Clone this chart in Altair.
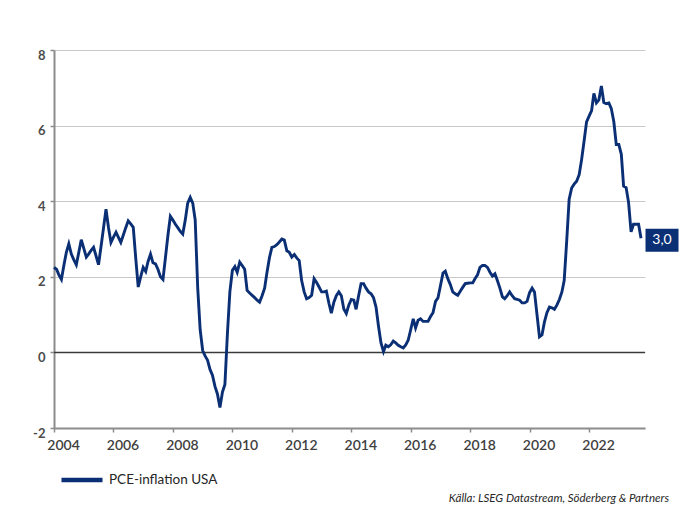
import altair as alt
import pandas as pd

# ---- data ----
series_name = "PCE-inflation USA"
source_text = "Källa: LSEG Datastream, Söderberg & Partners"
start_month = "2004-01-01"
tick_years = [2004, 2006, 2008, 2010, 2012, 2014, 2016, 2018, 2020, 2022]
y_ticks = [-2, 0, 2, 4, 6, 8]

pce_2004 = [2.25, 2.2, 2.05, 1.93, 2.3, 2.65, 2.87, 2.6, 2.45, 2.32, 2.65, 2.98]
pce_2005 = [2.75, 2.52, 2.6, 2.7, 2.78, 2.55, 2.32, 2.8, 3.3, 3.79, 3.3, 2.91]
pce_2006 = [3.05, 3.18, 3.05, 2.91, 3.1, 3.3, 3.48, 3.4, 3.31, 2.5, 1.73, 2.0]
pce_2007 = [2.25, 2.14, 2.4, 2.6, 2.37, 2.34, 2.2, 2.0, 1.93, 2.5, 3.1, 3.6]
pce_2008 = [3.5, 3.39, 3.3, 3.2, 3.13, 3.5, 3.95, 4.1, 3.95, 3.5, 1.7, 0.6]
pce_2009 = [0.05, -0.1, -0.2, -0.45, -0.6, -0.9, -1.1, -1.46, -1.05, -0.85, 0.5, 1.6]
pce_2010 = [2.17, 2.27, 2.12, 2.39, 2.3, 2.2, 1.64, 1.57, 1.51, 1.45, 1.38, 1.33]
pce_2011 = [1.5, 1.7, 2.1, 2.5, 2.78, 2.8, 2.85, 2.92, 3.0, 2.97, 2.69, 2.65]
pce_2012 = [2.52, 2.59, 2.5, 2.43, 1.9, 1.6, 1.42, 1.45, 1.51, 1.95, 1.85, 1.73]
pce_2013 = [1.6, 1.6, 1.62, 1.3, 1.04, 1.33, 1.5, 1.6, 1.5, 1.15, 1.03, 1.25]
pce_2014 = [1.4, 1.38, 1.14, 1.5, 1.82, 1.82, 1.7, 1.6, 1.55, 1.45, 1.2, 0.7]
pce_2015 = [0.25, 0.02, 0.19, 0.15, 0.2, 0.3, 0.25, 0.19, 0.15, 0.12, 0.2, 0.32]
pce_2016 = [0.6, 0.89, 0.65, 0.85, 0.89, 0.82, 0.82, 0.82, 0.95, 1.05, 1.35, 1.44]
pce_2017 = [1.77, 2.1, 2.15, 1.95, 1.8, 1.6, 1.55, 1.51, 1.62, 1.72, 1.82, 1.83]
pce_2018 = [1.84, 1.84, 1.95, 2.05, 2.25, 2.3, 2.3, 2.25, 2.12, 2.02, 2.08, 1.9]
pce_2019 = [1.7, 1.47, 1.42, 1.5, 1.6, 1.5, 1.42, 1.4, 1.38, 1.31, 1.31, 1.35]
pce_2020 = [1.58, 1.7, 1.6, 1.0, 0.41, 0.46, 0.8, 1.05, 1.2, 1.18, 1.14, 1.25]
pce_2021 = [1.4, 1.6, 1.9, 2.95, 4.05, 4.35, 4.45, 4.53, 4.7, 5.1, 5.6, 6.1]
pce_2022 = [6.25, 6.4, 6.85, 6.6, 6.68, 7.05, 6.61, 6.58, 6.6, 6.45, 6.1, 5.5]
pce_2023 = [5.5, 5.24, 4.4, 4.36, 3.97, 3.19, 3.39, 3.39, 3.39, 3.02]

values = (pce_2004 + pce_2005 + pce_2006 + pce_2007 + pce_2008 + pce_2009 + pce_2010
          + pce_2011 + pce_2012 + pce_2013 + pce_2014 + pce_2015 + pce_2016 + pce_2017
          + pce_2018 + pce_2019 + pce_2020 + pce_2021 + pce_2022 + pce_2023)

dates = pd.date_range(start_month, periods=len(values), freq="MS")
df = pd.DataFrame({"date": dates, "value": values, "series": series_name})
last_df = df.tail(1).copy()

NAVY = "#0b2f74"
GRID = "#c8c8c8"
AXIS = "#8c8c8c"
FONT = "Lato"

x_domain = [alt.DateTime(year=2004, month=1, date=1), alt.DateTime(year=2023, month=11, date=19)]
x_values = [alt.DateTime(year=y, month=1, date=1) for y in tick_years]

x_enc = alt.X(
    "date:T",
    scale=alt.Scale(domain=x_domain),
    axis=alt.Axis(
        values=x_values, format="%Y", title=None, grid=False,
        domainColor=AXIS, domainWidth=2, tickColor=AXIS, tickWidth=1.5, tickSize=4,
        labelFont=FONT, labelFontSize=14, labelColor="#404040", labelFontWeight=600,
        labelPadding=6, labelOffset=9, labelFlush=False, labelOverlap=False, labelBound=False,
    ),
)
y_enc = alt.Y(
    "value:Q",
    scale=alt.Scale(domain=[-2, 8], nice=False, zero=False),
    axis=alt.Axis(
        values=y_ticks, title=None, grid=True, gridColor=GRID, gridWidth=1,
        domainColor=AXIS, domainWidth=2, tickColor=AXIS, tickWidth=1.5, tickSize=4,
        labelFont=FONT, labelFontSize=13, labelFontWeight="bold", labelColor="#4d4d4d",
        labelPadding=5, labelOffset=5, labelExpr="'' + datum.value",
    ),
)

zero_rule = alt.Chart(pd.DataFrame({"z": [0]})).mark_rule(
    color="#3a3a3a", strokeWidth=1.5
).encode(y="z:Q")

line = alt.Chart(df).mark_line(strokeWidth=2.9, interpolate="linear").encode(
    x=x_enc,
    y=y_enc,
    color=alt.Color(
        "series:N",
        scale=alt.Scale(domain=[series_name], range=[NAVY]),
        legend=alt.Legend(
            title=None, orient="none", legendX=5, legendY=407, padding=0,
            symbolType="stroke", symbolSize=1681, symbolStrokeWidth=4.3,
            labelFont=FONT, labelFontSize=13.5, labelColor="#262626", labelOffset=4,
        ),
    ),
)

box_shape = "M-1,-0.697H1V0.697H-1Z"
end_box = alt.Chart(last_df).mark_point(
    shape=box_shape, size=1089, filled=True, color=NAVY, opacity=1,
    xOffset=21, yOffset=2, strokeWidth=0,
).encode(x="date:T", y="value:Q")

end_text = alt.Chart(last_df).transform_calculate(
    lbl="replace(format(datum.value, '.1f'), '.', ',')"
).mark_text(
    color="white", font=FONT, fontSize=14, xOffset=21, yOffset=2,
    align="center", baseline="middle",
).encode(x="date:T", y="value:Q", text="lbl:N")

source = alt.Chart(pd.DataFrame({"t": [source_text]})).mark_text(
    align="right", baseline="middle", font=FONT, fontStyle="italic",
    fontSize=11.5, color="#262626",
).encode(text="t:N", x=alt.value(615), y=alt.value(449))

chart = alt.layer(zero_rule, line, end_box, end_text, source).properties(
    width=591,
    height=378,
    padding={"left": 46, "top": 42, "right": 39, "bottom": 80},
    autosize=alt.AutoSizeParams(type="none"),
    background="white",
).configure_view(strokeWidth=0)

chart.save("out.html", embed_options={"renderer": "svg", "actions": False})
